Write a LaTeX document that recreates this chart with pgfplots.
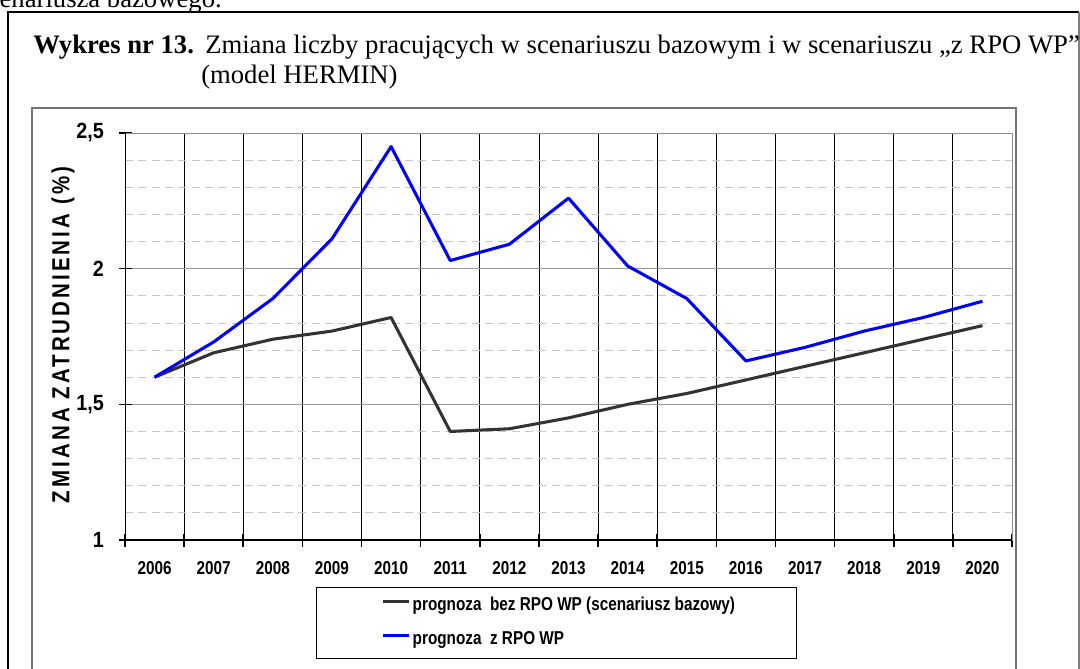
\documentclass[border=0pt]{standalone}
\usepackage{fontspec}
\setmainfont{Liberation Serif}
\newfontfamily\arial{Liberation Sans}
\newfontfamily\arialLS[LetterSpace=15]{Liberation Sans}
\usepackage{graphicx}
\usepackage{pgfplots}
\pgfplotsset{compat=1.18}

\newcommand\nb[1]{\scalebox{0.82}[1]{#1}}
\newcommand\ny[1]{\scalebox{0.9}[1]{#1}}

\begin{document}
\begin{tikzpicture}[x=0.75pt,y=-0.75pt]
\useasboundingbox (0,0) rectangle (1080,668);
% cut-off text of the page above
\node[anchor=base east, inner sep=0, font=\fontsize{20}{23}\selectfont] at (222,7) {scenariusza bazowego.};
% outer frame
\draw[line width=1.8pt] (8,720) -- (8,12) -- (1079,12);
\draw[gray, line width=0.8pt] (1079,12) -- (1079,720);
% title
\node[anchor=base west, inner sep=0, font=\fontsize{20}{23}\selectfont] at (33,53) {\textbf{Wykres nr 13.}};
\node[anchor=base west, inner sep=0, font=\fontsize{20}{23}\selectfont] at (205,53) {Zmiana liczby pracujących w scenariuszu bazowym i w scenariuszu „z RPO WP”};
\node[anchor=base west, inner sep=0, font=\fontsize{20}{23}\selectfont] at (201,83) {(model HERMIN)};
% chart frame
\draw[black!55, line width=1.2pt] (32,720) -- (32,108) -- (1016,108) -- (1016,720);
% y label
\node[rotate=90, inner sep=0, font=\arialLS\bfseries\fontsize{18.5}{18.5}\selectfont] at (63,335) {\scalebox{0.83}[1]{ZMIANA ZATRUDNIENIA (\%)}};

\begin{axis}[
  at={(125*0.75pt,-540*0.75pt)}, anchor=south west,
  scale only axis, width=665.25pt, height=305.25pt,
  xmin=-0.5, xmax=14.5, ymin=1, ymax=2.5,
  xtick={-0.5,0.5,...,14.5},
  x tick label as interval,
  xticklabels={\nb{2006},\nb{2007},\nb{2008},\nb{2009},\nb{2010},\nb{2011},\nb{2012},\nb{2013},\nb{2014},\nb{2015},\nb{2016},\nb{2017},\nb{2018},\nb{2019},\nb{2020}},
  xticklabel style={font=\arial\bfseries\fontsize{14}{14}\selectfont, yshift=-8pt},
  ytick={1,1.5,2,2.5},
  minor ytick={1.1,1.2,1.3,1.4,1.6,1.7,1.8,1.9,2.1,2.2,2.3,2.4},
  yticklabels={\ny{1},\ny{1,5},\ny{2},\ny{2,5}},
  yticklabel style={font=\arial\bfseries\fontsize{16.5}{16.5}\selectfont, xshift=-7.5pt},
  xmajorgrids, ymajorgrids, yminorgrids,
  x grid style={black, line width=0.6pt},
  y grid style={black!40, line width=0.7pt},
  minor y grid style={black!22, line width=0.6pt, dash pattern=on 6pt off 4pt},
  tick align=center, tick pos=left,
  major tick length=9.75pt, minor tick length=0pt,
  tick style={black, line width=1.2pt},
  axis line style={black!45, line width=0.7pt},
  legend style={at={(0.2153,-0.1155)}, anchor=north west, draw=black, line width=0.8pt,
    inner xsep=0pt, inner ysep=7.5pt, row sep=13pt, column sep=1.5pt,
    nodes={inner sep=0pt, text height=9.5pt, text depth=3pt,
      font=\arial\bfseries\fontsize{14}{14}\selectfont}},
  legend cell align=left,
  legend image code/.code={\path[draw=none] (0pt,0pt) -- (50pt,0pt); \draw[#1] (50pt,3.5pt) -- (69.5pt,3.5pt);},
]
\addplot[color=black!80, line width=2.3pt, line join=round] coordinates {
(0,1.60) (1,1.69) (2,1.74) (3,1.77) (4,1.82) (5,1.40) (6,1.41) (7,1.45)
(8,1.50) (9,1.54) (10,1.59) (11,1.64) (12,1.69) (13,1.74) (14,1.79)};
\addlegendentry{\makebox[288pt][l]{\nb{prognoza\ \ bez RPO WP (scenariusz bazowy)}}}
\addplot[color=blue, line width=2.3pt, line join=round] coordinates {
(0,1.60) (1,1.73) (2,1.89) (3,2.11) (4,2.45) (5,2.03) (6,2.09) (7,2.26)
(8,2.01) (9,1.89) (10,1.66) (11,1.71) (12,1.77) (13,1.82) (14,1.88)};
\addlegendentry{\makebox[288pt][l]{\nb{prognoza\ \ z RPO WP}}}
\draw[black, line width=1.5pt] (rel axis cs:0,1) -- (rel axis cs:0,0) -- (rel axis cs:1,0);
\end{axis}
\end{tikzpicture}
\end{document}
